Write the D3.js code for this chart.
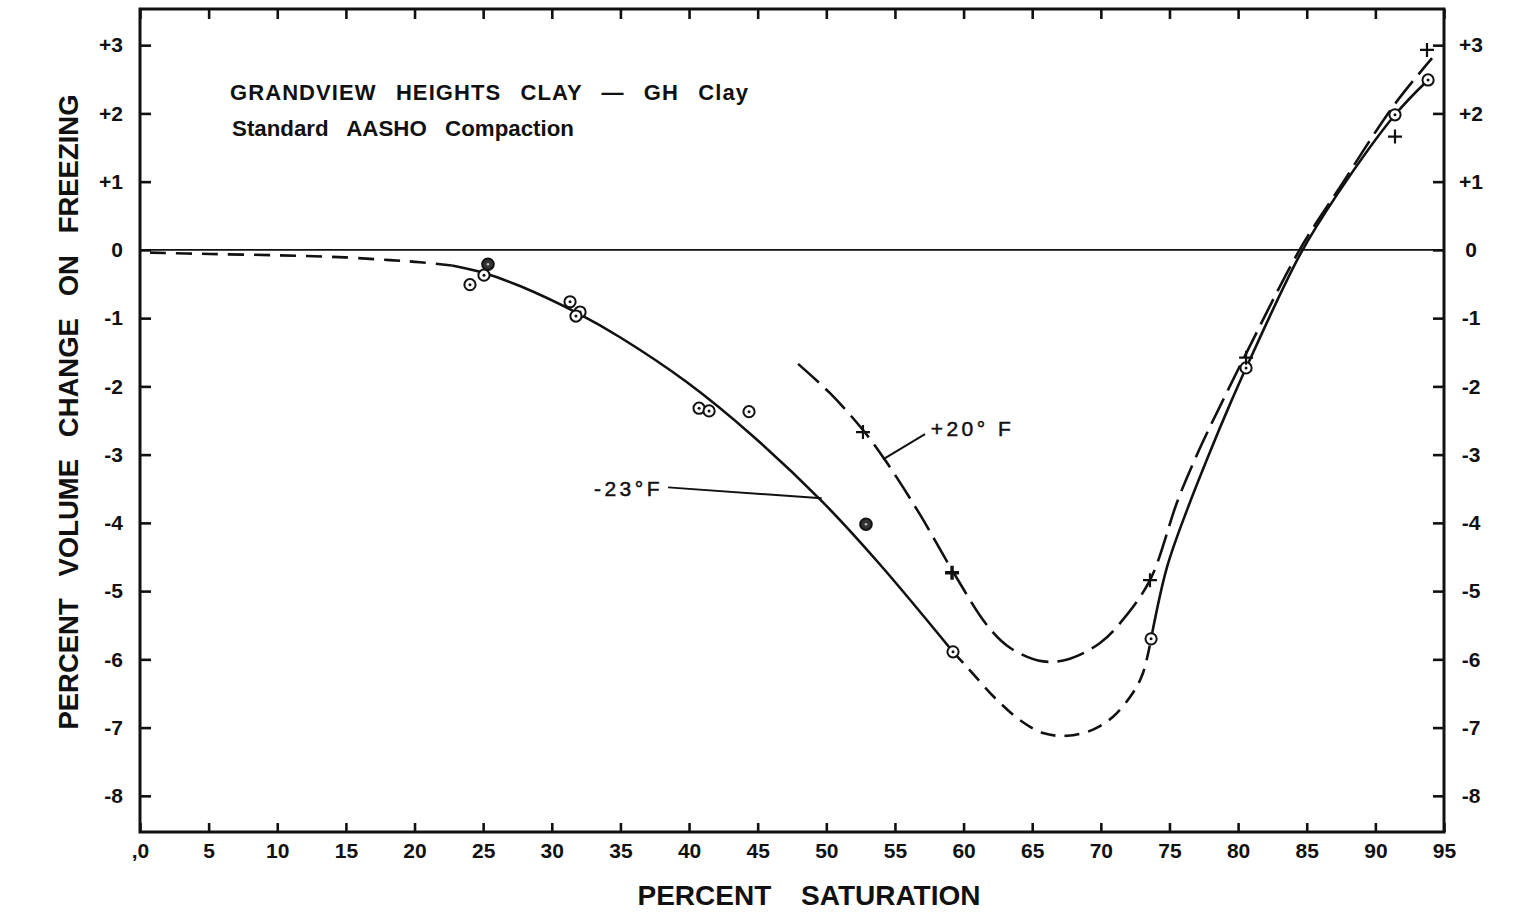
<!DOCTYPE html>
<html>
<head>
<meta charset="utf-8">
<script src="https://cdn.jsdelivr.net/npm/d3@7"></script>
<style>
  body { margin: 0; background: #fff; }
  text { font-family: "Liberation Sans", Arial, sans-serif; font-weight: bold; fill: #111; }
</style>
</head>
<body>
<svg id="chart" width="1540" height="920"></svg>
<script>
// ---- axis ticks and labels ----
const xTicks = [0, 5, 10, 15, 20, 25, 30, 35, 40, 45, 50, 55, 60, 65, 70, 75, 80, 85, 90, 95];
const xTickLabels = [",0", "5", "10", "15", "20", "25", "30", "35", "40", "45", "50", "55", "60", "65", "70", "75", "80", "85", "90", "95"];
const yTicks = [3, 2, 1, 0, -1, -2, -3, -4, -5, -6, -7, -8];
const yTickLabels = ["+3", "+2", "+1", "0", "-1", "-2", "-3", "-4", "-5", "-6", "-7", "-8"];

// ---- -23°F curve, split by line style ----
const minus23Lead = [[0.73, -0.04], [5.10, -0.06], [10.20, -0.08], [14.94, -0.11], [18.21, -0.15], [20.40, -0.18], [22.73, -0.23]];
const minus23Upper = [[22.73, -0.23], [25.06, -0.34], [27.68, -0.53], [31.91, -0.93], [34.97, -1.28], [39.85, -1.94],
  [44.66, -2.73], [49.76, -3.70], [53.91, -4.61], [59.23, -5.89]];
const minus23Trough = [[59.23, -5.89], [60.23, -6.11], [62.41, -6.59], [64.11, -6.89], [65.79, -7.08], [67.54, -7.12],
  [69.43, -7.03], [70.89, -6.84], [72.34, -6.49], [73.07, -6.20], [73.66, -5.70]];
const minus23Rise = [[73.66, -5.70], [74.82, -4.65], [76.28, -3.81], [77.95, -2.96], [79.41, -2.26], [80.58, -1.73],
  [84.51, -0.07], [87.21, 0.81], [91.43, 1.98], [93.84, 2.49]];

// ---- +20°F curve ----
const plus20Curve = [[47.94, -1.67], [50.27, -2.10], [52.67, -2.64], [54.42, -3.12], [56.83, -3.88], [59.16, -4.69],
  [61.71, -5.50], [63.38, -5.83], [65.79, -6.03], [67.75, -5.99], [69.94, -5.76], [71.40, -5.47], [73.58, -4.84],
  [75.62, -3.66], [77.23, -2.90], [78.83, -2.23], [80.58, -1.52], [84.51, 0.01], [87.42, 0.92], [91.28, 2.10], [94.13, 2.81]];

// ---- observations ----
const minus23Points = [[24.04, -0.51], [25.06, -0.37], [31.33, -0.76], [32.06, -0.91], [31.76, -0.97],
  [40.73, -2.32], [41.46, -2.36], [44.37, -2.37], [59.23, -5.89], [73.66, -5.70], [80.58, -1.73], [91.43, 1.98], [93.84, 2.49]];
const minus23DarkPoints = [[25.35, -0.21], [52.89, -4.02]];
const plus20Points = [[52.67, -2.67], [73.58, -4.84], [80.58, -1.58], [91.43, 1.66], [93.76, 2.93]];
const plus20BoldPoints = [[59.16, -4.73]];

// ---- annotations ----
const titleLines = ["GRANDVIEW HEIGHTS CLAY \u2014 GH Clay", "Standard AASHO Compaction"];
const plus20Label = { text: "+20\u00b0 F", from: [54.13, -3.07], to: [57.19, -2.70], at: [57.6, -2.72] };
const minus23Label = { text: "-23\u00b0F", from: [49.66, -3.64], to: [38.47, -3.48], at: [38.1, -3.60] };

const svg = d3.select("#chart");
const plotLeft = 140, plotRight = 1444, plotTop = 9, plotBottom = 832;

const x = d3.scaleLinear().domain([0, 95]).range([plotLeft, plotRight]);
const y = d3.scaleLinear().domain([-8.53, 3.53]).range([plotBottom, plotTop]);

// ---- axes (ticks point inward) ----
const axisStyle = g => {
  g.select(".domain").remove();
  g.selectAll(".tick line").attr("stroke", "#111").attr("stroke-width", 2.6);
  g.selectAll(".tick text").style("font-size", "21px").attr("fill", "#111");
};

svg.append("g").attr("transform", `translate(0,${plotBottom})`)
  .call(d3.axisBottom(x).tickValues(xTicks).tickSizeInner(-9).tickSizeOuter(0).tickPadding(11)
    .tickFormat((d, i) => xTickLabels[i]))
  .call(axisStyle);

svg.append("g").attr("transform", `translate(0,${plotTop})`)
  .call(d3.axisTop(x).tickValues(xTicks).tickSizeInner(-10).tickSizeOuter(0).tickFormat(""))
  .call(axisStyle);

svg.append("g").attr("transform", `translate(${plotLeft},0)`)
  .call(d3.axisLeft(y).tickValues(yTicks).tickSizeInner(-11).tickSizeOuter(0).tickPadding(17)
    .tickFormat((d, i) => yTickLabels[i]))
  .call(axisStyle);

svg.append("g").attr("transform", `translate(${plotRight},0)`)
  .call(d3.axisRight(y).tickValues(yTicks).tickSizeInner(-11).tickSizeOuter(0).tickPadding(27)
    .tickFormat((d, i) => yTickLabels[i]))
  .call(axisStyle)
  .call(g => g.selectAll(".tick text").attr("text-anchor", "middle"));

// frame
svg.append("rect")
  .attr("x", plotLeft).attr("y", plotTop).attr("width", plotRight - plotLeft).attr("height", plotBottom - plotTop)
  .attr("fill", "none").attr("stroke", "#111").attr("stroke-width", 3);

// zero line
svg.append("line")
  .attr("x1", plotLeft).attr("x2", plotRight).attr("y1", y(0)).attr("y2", y(0))
  .attr("stroke", "#111").attr("stroke-width", 1.8);

// ---- curves ----
const line = d3.line().x(d => x(d[0])).y(d => y(d[1])).curve(d3.curveCatmullRom.alpha(0.5));
const drawCurve = (data, dash) => svg.append("path")
  .attr("d", line(data)).attr("fill", "none").attr("stroke", "#111")
  .attr("stroke-width", 2.6).attr("stroke-dasharray", dash);

drawCurve(minus23Lead, "16,10");
drawCurve(minus23Upper, null);
drawCurve(minus23Trough, "15,9");
drawCurve(minus23Rise, null);
drawCurve(plus20Curve, "28,9");

// ---- markers ----
const circ = svg.append("g");
minus23Points.forEach(d => {
  circ.append("circle").attr("cx", x(d[0])).attr("cy", y(d[1])).attr("r", 5.6)
    .attr("fill", "#fff").attr("stroke", "#111").attr("stroke-width", 2);
  circ.append("circle").attr("cx", x(d[0])).attr("cy", y(d[1])).attr("r", 1.5).attr("fill", "#111");
});
minus23DarkPoints.forEach(d => {
  circ.append("circle").attr("cx", x(d[0])).attr("cy", y(d[1])).attr("r", 5.8)
    .attr("fill", "#333").attr("stroke", "#111").attr("stroke-width", 2);
  circ.append("circle").attr("cx", x(d[0])).attr("cy", y(d[1])).attr("r", 1.3).attr("fill", "#bbb");
});

const plus = (d, w) => {
  const cx = x(d[0]), cy = y(d[1]), s = 7;
  svg.append("path").attr("d", `M${cx - s},${cy}H${cx + s}M${cx},${cy - s}V${cy + s}`)
    .attr("stroke", "#111").attr("stroke-width", w).attr("fill", "none");
};
plus20Points.forEach(d => plus(d, 2.2));
plus20BoldPoints.forEach(d => plus(d, 3.4));

// ---- curve labels ----
[plus20Label, minus23Label].forEach((lab, i) => {
  svg.append("line")
    .attr("x1", x(lab.from[0])).attr("y1", y(lab.from[1]))
    .attr("x2", x(lab.to[0])).attr("y2", y(lab.to[1]))
    .attr("stroke", "#111").attr("stroke-width", 2);
  svg.append("text")
    .attr("x", x(lab.at[0])).attr("y", y(lab.at[1]))
    .attr("text-anchor", i === 0 ? "start" : "end")
    .style("font-size", "21px").style("font-weight", "normal").style("letter-spacing", "3.5px")
    .style("stroke", "#111").style("stroke-width", "0.5px")
    .text(lab.text);
});

// ---- title block ----
svg.append("text").attr("x", 230).attr("y", 100)
  .style("font-size", "22px").style("word-spacing", "12px")
  .attr("textLength", 518).attr("lengthAdjust", "spacing")
  .text(titleLines[0]);
svg.append("text").attr("x", 232).attr("y", 136)
  .style("font-size", "22px").style("word-spacing", "12px")
  .attr("textLength", 342).attr("lengthAdjust", "spacingAndGlyphs")
  .text(titleLines[1]);

// ---- axis titles ----
svg.append("text")
  .attr("x", (plotLeft + plotRight) / 2 + 17).attr("y", 905)
  .attr("text-anchor", "middle")
  .style("font-size", "28px").style("word-spacing", "22px")
  .text("PERCENT SATURATION");

svg.append("text")
  .attr("transform", "translate(78,412) rotate(-90)")
  .attr("text-anchor", "middle")
  .style("font-size", "27px").style("word-spacing", "14px")
  .attr("textLength", 635).attr("lengthAdjust", "spacingAndGlyphs")
  .text("PERCENT VOLUME CHANGE ON FREEZING");
</script>
</body>
</html>
